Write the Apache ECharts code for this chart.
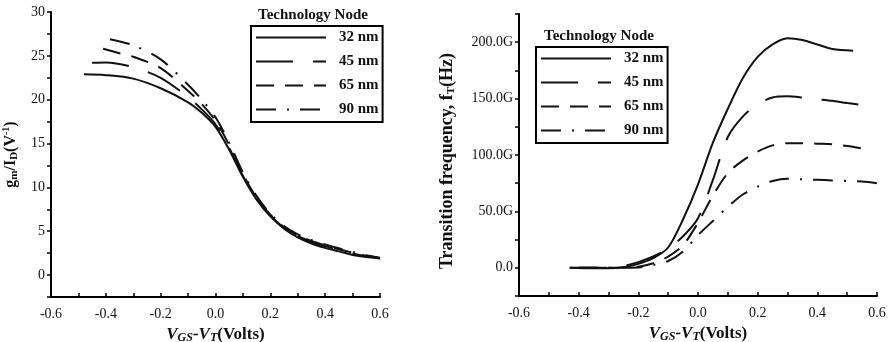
<!DOCTYPE html>
<html><head><meta charset="utf-8">
<script src="https://cdn.jsdelivr.net/npm/echarts@6/dist/echarts.min.js"></script>
<style>html,body{margin:0;padding:0;background:#fff}#c{width:890px;height:342px}</style>
</head><body><div id="c"></div>
<script>
// ---- Data ----
const seriesNames = ['32 nm', '45 nm', '65 nm', '90 nm'];
const legendTitle = 'Technology Node';
// Left: gm/Id vs VGS-VT
const v32L = [-0.48,-0.4,-0.3,-0.2,-0.1,-0.05,0,0.05,0.1,0.15,0.2,0.25,0.3,0.35,0.4,0.45,0.5,0.55,0.6];
const gm32 = [22.9,22.8,22.4,21.3,19.7,18.5,16.9,14.3,11.2,8.6,6.7,5.3,4.3,3.6,3.1,2.7,2.3,2.05,1.9];
const v45L = [-0.45,-0.4,-0.3,-0.2,-0.1,-0.05,0,0.05,0.1,0.15,0.2,0.25,0.3,0.35,0.4,0.45,0.5,0.55,0.6];
const gm45 = [24.2,24.25,23.7,22.5,20.3,18.9,17.2,14.5,11.3,8.7,6.8,5.4,4.45,3.8,3.3,2.85,2.45,2.15,1.95];
const v65L = [-0.41,-0.35,-0.3,-0.2,-0.1,-0.05,0,0.05,0.1,0.15,0.2,0.25,0.3,0.35,0.4,0.45,0.5,0.55,0.6];
const gm65 = [25.8,25.3,24.9,23.6,21.0,19.5,17.6,14.8,11.5,8.8,6.9,5.5,4.55,3.9,3.4,2.95,2.55,2.2,1.95];
const v90L = [-0.385,-0.3,-0.2,-0.1,-0.05,0,0.05,0.1,0.15,0.2,0.25,0.3,0.35,0.4,0.45,0.5,0.55,0.6];
const gm90 = [26.9,26.2,24.6,21.7,20.0,18.0,15.1,11.7,9.0,7.0,5.6,4.65,4.0,3.5,3.05,2.65,2.25,1.95];
// Right: fT (GHz) vs VGS-VT
const v32R = [-0.43,-0.35,-0.3,-0.25,-0.2,-0.15,-0.1,-0.05,0,0.05,0.1,0.15,0.2,0.25,0.3,0.35,0.4,0.45,0.52];
const ft32 = [0,-0.5,-0.5,0.5,3.5,8.5,18,43,74,111,141,168,187,198,203.5,202,198,194,192.5];
const v45R = [-0.43,-0.35,-0.3,-0.25,-0.2,-0.15,-0.1,-0.05,0,0.05,0.1,0.15,0.2,0.25,0.3,0.35,0.4,0.45,0.5,0.56];
const ft45 = [0,0,0,1.5,5,10,17,28,44,78,116,134,145,151,152,151,149.5,148,146,144];
const v65R = [-0.4,-0.3,-0.2,-0.15,-0.1,-0.05,0,0.05,0.1,0.15,0.2,0.25,0.3,0.35,0.4,0.45,0.5,0.58];
const ft65 = [0,0,1,4,10,20,40,64,84,95,103,108.5,110.5,110.5,110,109.5,108,104.5];
const v90R = [-0.4,-0.3,-0.2,-0.15,-0.1,-0.05,0,0.05,0.1,0.15,0.2,0.25,0.3,0.35,0.4,0.45,0.5,0.55,0.6];
const ft90 = [0,0,0.3,2.5,6,14.5,29,41.5,54,65,72,77,79,78.5,78,77.5,77,76.5,75];

// ---- Styles ----
const SERIF = '"Liberation Serif","DejaVu Serif",serif';
const dashes = ['solid', [37,20], [18,11], [20,11,2,11]];
const zip = (xs, ys) => xs.map((x, i) => [x, ys[i]]);
const leftData = [zip(v32L, gm32), zip(v45L, gm45), zip(v65L, gm65), zip(v90L, gm90)];
const rightData = [zip(v32R, ft32), zip(v45R, ft45), zip(v65R, ft65), zip(v90R, ft90)];

const fmt1 = v => (Math.abs(v) < 1e-9 ? 0 : v).toFixed(1);
const axisLine = {show: true, onZero: false, lineStyle: {color: '#000', width: 2}};
const tickStyle = {color: '#000', width: 1.5};
function rich(big) {
  return {
    b: {fontFamily: SERIF, fontWeight: 'bold', fontSize: big, color: '#111'},
    v: {fontFamily: SERIF, fontWeight: 'bold', fontStyle: 'italic', fontSize: 17, color: '#111'},
    n: {fontFamily: SERIF, fontWeight: 'bold', fontSize: 17, color: '#111'},
    s: {fontFamily: SERIF, fontWeight: 'bold', fontSize: 11, color: '#111', padding: [8, 0, 0, 0]},
    si: {fontFamily: SERIF, fontWeight: 'bold', fontStyle: 'italic', fontSize: 12, color: '#111', padding: [8, 0, 0, 0]},
    p: {fontFamily: SERIF, fontWeight: 'bold', fontSize: 10, color: '#111', padding: [0, 0, 8, 0]}
  };
}
const labelStyle = {color: '#111', fontFamily: SERIF, fontSize: 14};

function xAxisCfg(gi) {
  return {
    gridIndex: gi, type: 'value', min: -0.6, max: 0.6, interval: 0.2,
    axisLine: axisLine,
    axisTick: {inside: true, length: 4, lineStyle: tickStyle},
    minorTick: {show: true, splitNumber: 2, length: 4, lineStyle: tickStyle},
    splitLine: {show: false},
    axisLabel: Object.assign({formatter: fmt1, margin: 10}, labelStyle),
    name: '{v|V}{si|GS}{v|-V}{si|T}{n|(Volts)}',
    nameLocation: 'middle', nameGap: 19,
    nameTextStyle: {rich: rich(16)}
  };
}

const option = {
  animation: false,
  backgroundColor: '#fff',
  grid: [
    {left: 51, top: 12, width: 329, height: 285, containLabel: false, outerBoundsMode: 'none'},
    {left: 519, top: 14, width: 358, height: 282, containLabel: false, outerBoundsMode: 'none'}
  ],
  title: [
    {text: legendTitle, left: 258, top: 8, padding: 0,
     textStyle: {fontFamily: SERIF, fontWeight: 'bold', fontSize: 15, color: '#111'}},
    {text: legendTitle, left: 544, top: 29, padding: 0,
     textStyle: {fontFamily: SERIF, fontWeight: 'bold', fontSize: 15, color: '#111'}}
  ],
  legend: [
    {left: 251, top: 26, orient: 'vertical', data: seriesNames, itemWidth: 70, itemHeight: 14, itemGap: 9,
     padding: [4, 4, 5, 4], borderColor: '#000', borderWidth: 2, selectedMode: false,
     itemStyle: {opacity: 0},
     textStyle: {fontFamily: SERIF, fontWeight: 'bold', fontSize: 15, color: '#111', padding: [0, 0, 0, 8]}},
    {left: 536, top: 47, orient: 'vertical', data: seriesNames, itemWidth: 70, itemHeight: 14, itemGap: 9,
     padding: [4, 4, 5, 4], borderColor: '#000', borderWidth: 2, selectedMode: false,
     itemStyle: {opacity: 0},
     textStyle: {fontFamily: SERIF, fontWeight: 'bold', fontSize: 15, color: '#111', padding: [0, 0, 0, 8]}}
  ],
  xAxis: [xAxisCfg(0), xAxisCfg(1)],
  yAxis: [
    {gridIndex: 0, type: 'value', min: -2.5, max: 30, interval: 2.5,
     axisLine: axisLine,
     axisTick: {inside: false, length: 4, lineStyle: tickStyle},
     splitLine: {show: false},
     axisLabel: Object.assign({margin: 6, formatter: v => (Math.round(v * 10) % 50 === 0 ? String(Math.round(v)) : '')}, labelStyle),
     name: '{b|g}{s|m}{b|/I}{s|D}{b|(V}{p|-1}{b|)}',
     nameLocation: 'middle', nameGap: 31, nameRotate: 90,
     nameTextStyle: {rich: rich(16)}},
    {gridIndex: 1, type: 'value', min: -25, max: 225, interval: 25,
     axisLine: axisLine,
     axisTick: {inside: false, length: 4, lineStyle: tickStyle},
     splitLine: {show: false},
     axisLabel: Object.assign({margin: 6, formatter: v => (Math.round(v) % 50 === 0 ? (Math.round(v) === 0 ? '0.0' : fmt1(v) + 'G') : '')}, labelStyle),
     name: '{b|Transition frequency, f}{s|T}{b|(Hz)}',
     nameLocation: 'middle', nameGap: 62, nameRotate: 90,
     nameTextStyle: {rich: rich(18), padding: [0, 12, 0, 0]}}
  ],
  series: []
};

seriesNames.forEach((name, i) => {
  const ls = {color: '#111', width: 2, type: dashes[i]};
  option.series.push({name: name, type: 'line', xAxisIndex: 0, yAxisIndex: 0, data: leftData[i],
    smooth: 0.3, symbol: 'none', lineStyle: ls, itemStyle: {color: '#111'}});
  option.series.push({name: name, type: 'line', xAxisIndex: 1, yAxisIndex: 1, data: rightData[i],
    smooth: 0.3, symbol: 'none', lineStyle: ls, itemStyle: {color: '#111'}});
});

const chart = echarts.init(document.getElementById('c'), null, {renderer: 'canvas'});
chart.setOption(option);
</script>
</body></html>
